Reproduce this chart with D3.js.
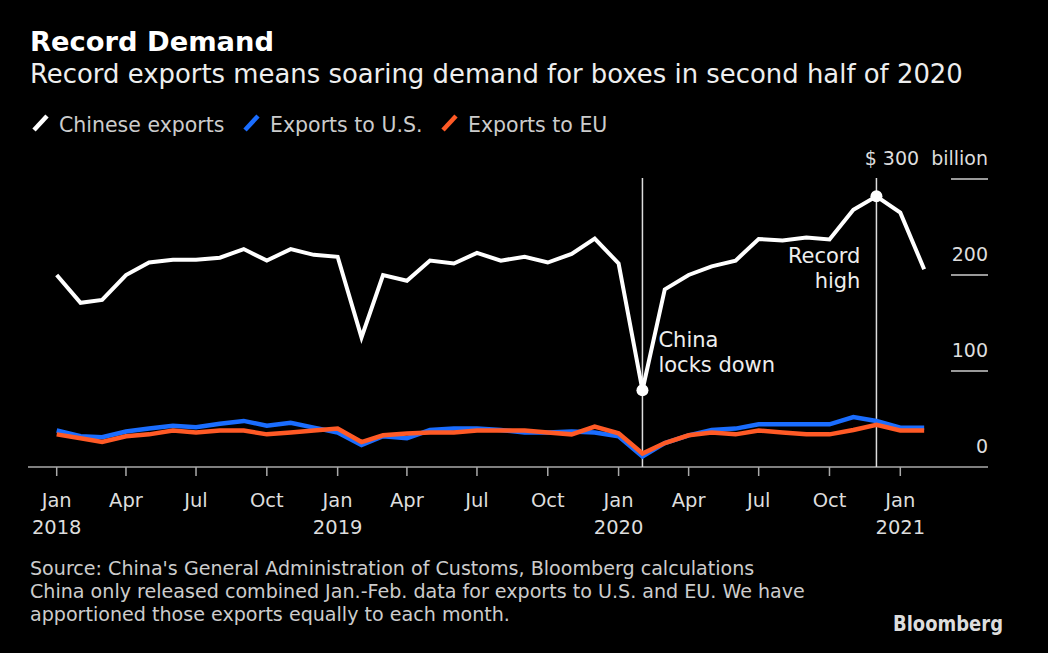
<!DOCTYPE html>
<html><head><meta charset="utf-8">
<script src="https://cdn.jsdelivr.net/npm/d3@7"></script>
<style>
html,body{margin:0;padding:0;background:#000;}
svg{display:block;}
text{font-family:"DejaVu Sans",sans-serif;}
</style></head>
<body>
<svg id="c" width="1048" height="653"></svg>
<script>
// ---- data ----
const startMonth = "2018-01";
const chinese = [200,171,174,200,213,216,216,218,227,215,227,221,219,135,200,194,215,212,223,215,219,213,222,238,212,80,185,200,209,215,237.5,236,239,237,268,282,265,206];
const us      = [38,32,31,37,40,43,41.5,45,48,43,46,41,36,23,32,30,38.5,40,40,38.5,36,36,37,36,32,11,25,33,38.5,40,44.5,44.5,44.5,44.5,52,48,41,41];
const eu      = [34,30,26,32,34,38,36,38,38,34,36,38,40,26,33,35,36,36,38,38,38,36,34,42,35,14,25,33,36,34,38,36,34,34,38.5,44,38,38];
const yTicks = [0,100,200,300];
const seriesNames = ["Chinese exports","Exports to U.S.","Exports to EU"];
const seriesColors = ["#ffffff","#1a6dff","#ff5a26"];
const events = [{date:"2020-02", label:["China","locks down"]},{date:"2020-12", label:["Record","high"]}];

const parse = d3.timeParse("%Y-%m");
const t0 = parse(startMonth);
const dates = chinese.map((_,i)=>d3.timeMonth.offset(t0,i));

const svg = d3.select("#c");
const x = d3.scaleTime().domain([t0, d3.timeMonth.offset(t0,36)]).range([56.7, 900.3]);
const y = d3.scaleLinear().domain([0,300]).range([467,179]);

// titles
svg.append("text").attr("x",30).attr("y",51).attr("fill","#fff").attr("font-size",27.3).attr("font-weight","bold").text("Record Demand");
svg.append("text").attr("x",30).attr("y",83).attr("fill","#eee").attr("font-size",25.9).text("Record exports means soaring demand for boxes in second half of 2020");

// legend
const legX = [32, 243, 441];
seriesNames.forEach((n,i)=>{
  svg.append("line").attr("x1",legX[i]+2).attr("y1",130).attr("x2",legX[i]+15).attr("y2",116)
    .attr("stroke",seriesColors[i]).attr("stroke-width",4.5);
  svg.append("text").attr("x",legX[i]+27).attr("y",131.5).attr("fill","#ccc").attr("font-size",20.5).text(n);
});

// x axis baseline
svg.append("line").attr("x1",28).attr("x2",988).attr("y1",y(0)).attr("y2",y(0)).attr("stroke","#aaa").attr("stroke-width",1.5);
const qTicks = d3.timeMonth.every(3).range(t0, d3.timeMonth.offset(t0,37));
const fmtM = d3.timeFormat("%b"), fmtY = d3.timeFormat("%Y");
const xg = svg.append("g");
qTicks.forEach(d=>{
  xg.append("line").attr("x1",x(d)).attr("x2",x(d)).attr("y1",y(0)).attr("y2",y(0)+9).attr("stroke","#aaa").attr("stroke-width",1.5);
  xg.append("text").attr("x",x(d)).attr("y",506.5).attr("text-anchor","middle").attr("fill","#ddd").attr("font-size",19.5).text(fmtM(d));
  if(d.getMonth()===0) xg.append("text").attr("x",x(d)).attr("y",534).attr("text-anchor","middle").attr("fill","#ddd").attr("font-size",19.5).text(fmtY(d));
});

// y grid & labels on right
yTicks.filter(v=>v>0).forEach(v=>{
  svg.append("line").attr("x1",951).attr("x2",988).attr("y1",y(v)).attr("y2",y(v)).attr("stroke","#ccc").attr("stroke-width",1.5);
});
yTicks.forEach(v=>{
  svg.append("text").attr("x",988).attr("y",y(v)-14.5).attr("text-anchor","end").attr("fill","#ddd").attr("font-size",19)
    .attr("xml:space","preserve").text(v===300 ? "$ 300  billion" : v);
});

// event lines
events.forEach(e=>{
  const d = parse(e.date);
  svg.append("line").attr("x1",x(d)).attr("x2",x(d)).attr("y1",178).attr("y2",y(0)).attr("stroke","#ddd").attr("stroke-width",1.5);
});

// series lines
const line = d3.line().x((d,i)=>x(dates[i])).y(d=>y(d));
[[us,1],[eu,2],[chinese,0]].forEach(([arr,ci])=>{
  svg.append("path").datum(arr).attr("d",line).attr("fill","none").attr("stroke",seriesColors[ci])
    .attr("stroke-width",ci===0?4:4.5).attr("stroke-linejoin","miter");
});

// markers
events.forEach(e=>{
  const d = parse(e.date);
  const i = d3.timeMonth.count(t0,d);
  svg.append("circle").attr("cx",x(d)).attr("cy",y(chinese[i])).attr("r",6).attr("fill","#fff");
});

// annotations
const a1 = parse(events[0].date);
svg.append("text").attr("x",x(a1)+16).attr("y",346.5).attr("fill","#eee").attr("font-size",21)
  .selectAll("tspan").data(events[0].label).join("tspan").attr("x",x(a1)+16).attr("dy",(d,i)=>i?25:0).text(d=>d);
const a2 = parse(events[1].date);
svg.append("text").attr("x",x(a2)-16).attr("y",263).attr("fill","#eee").attr("font-size",21).attr("text-anchor","end")
  .selectAll("tspan").data(events[1].label).join("tspan").attr("x",x(a2)-16).attr("dy",(d,i)=>i?25:0).text(d=>d);

// footer
const foot = ["Source: China's General Administration of Customs, Bloomberg calculations",
  "China only released combined Jan.-Feb. data for exports to U.S. and EU. We have",
  "apportioned those exports equally to each month."];
foot.forEach((f,i)=>svg.append("text").attr("x",30).attr("y",575+i*23).attr("fill","#ccc").attr("font-size",19.1).text(f));
svg.append("text").attr("x",893).attr("y",631).attr("fill","#ddd")
  .attr("font-family","Liberation Sans, Arial, sans-serif").attr("font-weight","bold").attr("font-size",21.5)
  .attr("textLength",110).attr("lengthAdjust","spacingAndGlyphs").text("Bloomberg");
</script>
</body></html>
